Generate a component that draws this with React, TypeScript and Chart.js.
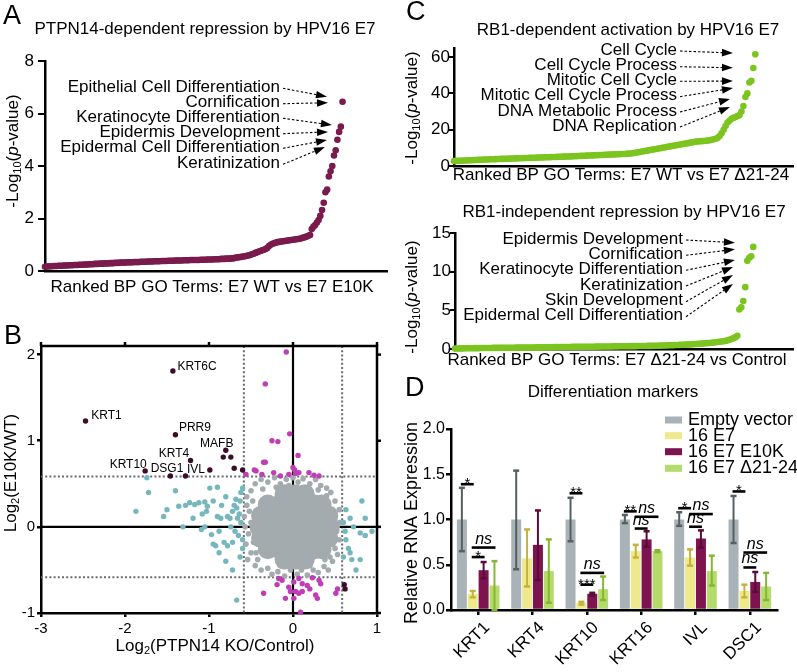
import React, { useEffect, useRef } from "react";
import { Chart, registerables } from "chart.js";
Chart.register(...registerables);

const FONT = "'Liberation Sans', Arial, Helvetica, sans-serif";

// ---------------- Panel A data ----------------
const aTitle = "PTPN14-dependent repression by HPV16 E7";
const aXTitle = "Ranked BP GO Terms: E7 WT vs E7 E10K";
const aYTicks = [0, 2, 4, 6, 8];
const aRankMax = 200;
const aValues = [
  0.16, 0.17, 0.17, 0.18, 0.18, 0.19, 0.19, 0.19, 0.2, 0.2,
  0.2, 0.21, 0.21, 0.21, 0.22, 0.22, 0.22, 0.23, 0.23, 0.23,
  0.24, 0.24, 0.24, 0.25, 0.25, 0.25, 0.26, 0.26, 0.26, 0.27,
  0.27, 0.27, 0.28, 0.28, 0.28, 0.29, 0.29, 0.29, 0.3, 0.3,
  0.3, 0.31, 0.31, 0.31, 0.32, 0.32, 0.32, 0.32, 0.33, 0.33,
  0.33, 0.33, 0.34, 0.34, 0.34, 0.34, 0.35, 0.35, 0.35, 0.35,
  0.36, 0.36, 0.36, 0.36, 0.37, 0.37, 0.37, 0.37, 0.38, 0.38,
  0.38, 0.38, 0.39, 0.39, 0.39, 0.39, 0.4, 0.4, 0.4, 0.4,
  0.4, 0.41, 0.41, 0.41, 0.41, 0.42, 0.42, 0.42, 0.42, 0.42, 0.42,
  0.43, 0.43, 0.43, 0.43, 0.44, 0.44, 0.44, 0.44, 0.45, 0.45,
  0.45, 0.45, 0.46, 0.46, 0.46, 0.47, 0.47, 0.47, 0.48, 0.48,
  0.5, 0.51, 0.52, 0.53, 0.54, 0.55, 0.56, 0.58, 0.59, 0.61,
  0.64, 0.66, 0.69, 0.71, 0.74, 0.76, 0.79, 0.81, 0.84, 0.88,
  0.95, 1.0, 1.04, 1.06, 1.08, 1.1,
  1.11, 1.12, 1.13, 1.14, 1.15, 1.16, 1.17, 1.18, 1.19, 1.2,
  1.21, 1.22, 1.23, 1.25, 1.27, 1.29, 1.31, 1.34, 1.37,
  1.6, 1.69, 1.75, 1.85, 1.94, 2.1, 2.32, 2.6, 3.0, 3.1,
  3.6, 3.8, 4.0, 4.4, 4.6, 5.0, 5.3, 5.5, 6.45,
];
const aTerms = [
  "Epithelial Cell Differentiation",
  "Cornification",
  "Keratinocyte Differentiation",
  "Epidermis Development",
  "Epidermal Cell Differentiation",
  "Keratinization",
];
const aArrowTips = [
  [164.9, 6.64], [165.5, 6.41], [167.8, 5.56], [165.5, 5.3], [164.9, 4.99], [163.7, 4.72],
];

// ---------------- Panel C data ----------------
const cTopTitle = "RB1-dependent activation by HPV16 E7";
const cTopXTitle = "Ranked BP GO Terms: E7 WT vs E7 \u039421-24";
const cTopYTicks = [0, 20, 40, 60];
const cTopRankMax = 171;
const cTopValues = [
  2.7, 2.8, 2.85, 2.9, 2.95, 3.0, 3.05, 3.1, 3.15, 3.2,
  3.25, 3.3, 3.35, 3.4, 3.45, 3.5, 3.55, 3.6, 3.65, 3.7,
  3.74, 3.78, 3.82, 3.86, 3.9, 3.94, 3.98, 4.02, 4.06, 4.1,
  4.14, 4.18, 4.22, 4.26, 4.3, 4.34, 4.38, 4.42, 4.46, 4.5,
  4.54, 4.58, 4.62, 4.66, 4.7, 4.74, 4.78, 4.82, 4.86, 4.9,
  4.94, 4.98, 5.02, 5.06, 5.1, 5.14, 5.18, 5.22, 5.26, 5.3,
  5.35, 5.4, 5.45, 5.5, 5.55, 5.6, 5.65, 5.7, 5.75, 5.8,
  5.85, 5.9, 5.95, 6.0, 6.05, 6.1, 6.15, 6.2, 6.25, 6.3,
  6.35, 6.4, 6.45, 6.5, 6.55, 6.6, 6.65, 6.7, 6.8, 6.9,
  7.0, 7.2, 7.4, 7.6, 7.8, 8.0, 8.2, 8.4, 8.6, 8.8,
  9.0, 9.2, 9.4, 9.6, 9.8, 10.0, 10.2, 10.4, 10.6, 10.8,
  11.0, 11.2, 11.4, 11.6, 11.8, 12.0, 12.2, 12.4, 12.6, 12.8,
  13.0, 13.2, 13.4, 13.5, 13.6, 13.7, 13.8, 13.9, 14.0, 14.2, 14.4, 14.7, 15.0,
  15.5, 16.5, 18, 20, 22, 24, 25, 26, 26.5, 27,
  27.5, 28, 30, 33, 38, 40, 46, 47, 54, 61.5,
];
const cTopTerms = [
  "Cell Cycle",
  "Cell Cycle Process",
  "Mitotic Cell Cycle",
  "Mitotic Cell Cycle Process",
  "DNA Metabolic Process",
  "DNA Replication",
];
const cTopArrowTips = [
  [140.7, 62.2], [140.7, 54.1], [140.7, 46.8], [140.7, 42.9], [139.2, 36.9], [139.2, 32.5],
];

const cBotTitle = "RB1-independent repression by HPV16 E7";
const cBotXTitle = "Ranked BP GO Terms: E7 \u039421-24 vs Control";
const cBotYTicks = [0, 5, 10, 15];
const cBotRankMax = 170;
const cBotValues = [
  0.05, 0.06, 0.07, 0.08, 0.08, 0.09, 0.09, 0.1, 0.1, 0.1,
  0.11, 0.11, 0.11, 0.12, 0.12, 0.12, 0.13, 0.13, 0.13, 0.14,
  0.14, 0.14, 0.15, 0.15, 0.15, 0.16, 0.16, 0.16, 0.17, 0.17,
  0.17, 0.18, 0.18, 0.18, 0.19, 0.19, 0.19, 0.2, 0.2, 0.2,
  0.2, 0.21, 0.21, 0.21, 0.22, 0.22, 0.22, 0.23, 0.23, 0.23,
  0.24, 0.24, 0.24, 0.25, 0.25, 0.25, 0.26, 0.26, 0.26, 0.27,
  0.27, 0.27, 0.28, 0.28, 0.28, 0.29, 0.29, 0.29, 0.3, 0.3,
  0.3, 0.31, 0.31, 0.31, 0.32, 0.32, 0.32, 0.33, 0.33, 0.33,
  0.34, 0.34, 0.34, 0.35, 0.35, 0.35, 0.36, 0.36, 0.36, 0.37,
  0.37, 0.37, 0.38, 0.38, 0.38, 0.39, 0.39, 0.4, 0.4, 0.41,
  0.41, 0.42, 0.42, 0.43, 0.44, 0.45, 0.46, 0.47, 0.48, 0.49,
  0.5, 0.51, 0.52, 0.53, 0.54, 0.55, 0.56, 0.57, 0.58, 0.6,
  0.62, 0.64, 0.66, 0.68, 0.7, 0.72, 0.74, 0.76, 0.78, 0.8,
  0.83, 0.86, 0.9, 0.93, 0.96, 1.0, 1.05, 1.1, 1.2, 1.3,
  1.4, 1.5, 1.7,
  5.1, 5.4, 6.2, 8.0, 11.4, 11.8, 12.0, 13.2,
];
const cBotTerms = [
  "Epidermis Development",
  "Cornification",
  "Keratinocyte Differentiation",
  "Keratinization",
  "Skin Development",
  "Epidermal Cell Differentiation",
];
const cBotArrowTips = [
  [140.8, 13.75], [140.8, 12.9], [140.8, 11.5], [139.8, 10.6], [139.8, 9.57], [139.8, 8.4],
];

// ---------------- Panel B data ----------------
const bXTicks = [-3, -2, -1, 0, 1];
const bYTicks = [-1, 0, 1, 2];
const bThreshold = 0.585;
const bDarkPts = [
  [-1.43, 1.81], [-2.47, 1.23], [-1.4, 1.07], [-0.8, 0.89], [-0.83, 0.81], [-0.74, 0.81],
  [-1.22, 0.77], [-0.7, 0.68], [-0.6, 0.66], [-0.99, 0.66], [-1.28, 0.59], [-1.46, 0.59],
  [-1.76, 0.65], [0.61, -0.67], [0.62, -0.72],
];
const bMagentaPts = [
  [-0.08, 2.03], [-0.33, 1.66], [-0.04, 1.08], [-0.25, 1.0], [-0.18, 0.99], [0.06, 0.83],
  [-0.33, 0.75], [0.0, 0.69], [-0.46, 0.66], [-0.35, 0.75], [-0.23, 0.63], [-0.15, 0.59],
  [-0.05, 0.61], [0.03, 0.62], [0.07, 0.63], [0.19, 0.63], [0.31, 0.59], [-0.56, 0.61],
  [-0.44, 0.65], [-0.37, 0.61], [0.25, 0.6], [0.02, 0.66],
  [-0.19, -0.67], [-0.13, -0.62], [-0.05, -0.7], [0.01, -0.64], [0.07, -0.6], [0.11, -0.66],
  [0.17, -0.68], [0.23, -0.59], [0.31, -0.62], [0.33, -0.66], [-0.03, -0.75], [0.03, -0.75],
  [0.07, -0.77], [0.11, -0.75], [-0.35, -0.77], [-0.09, -0.83], [0.01, -0.83], [0.27, -0.79],
  [0.29, -0.83], [0.51, -0.77], [0.53, -0.72], [0.09, -0.99], [-0.17, -0.6], [0.2, -0.72],
];
const bTealPts = [
  [-1.87, 0.18], [-1.72, 0.4], [-1.74, 0.57], [-1.54, 0.12], [-1.4, 0.42], [-1.31, 0.0],
  [-1.36, 0.24], [-1.23, 0.28], [-1.17, 0.26], [-1.12, 0.28], [-1.05, 0.29], [-1.02, 0.24],
  [-1.09, -0.03], [-1.05, 0.0], [-0.99, 0.45], [-0.9, 0.46], [-1.19, 0.1], [-1.08, 0.15],
  [-1.03, 0.18], [-0.9, 0.12], [-0.86, 0.1], [-0.97, -0.09], [-0.88, -0.05], [-0.95, -0.2],
  [-0.88, -0.3], [-0.92, -0.22], [-0.82, -0.18], [-0.78, -0.22], [-0.72, -0.18], [-0.8, -0.4],
  [-0.72, -0.5], [-0.67, -0.85], [-0.75, 0.1], [-0.72, 0.18], [-0.67, 0.22], [-0.63, 0.3],
  [-0.68, 0.32], [-0.62, 0.4], [-0.6, 0.45], [-0.7, 0.25], [-0.78, 0.12], [-0.74, 0.0],
  [-0.69, -0.05], [-0.65, -0.1], [-0.62, 0.05], [-0.66, 0.1], [-0.6, -0.25], [-0.63, -0.35],
  [-0.85, 0.25], [-0.8, 0.35], [-0.95, 0.3], [-1.28, 0.25], [-1.5, 0.2], [-0.6, -0.15],
  [-0.64, 0.15],
  [0.63, 0.2], [0.68, 0.1], [0.72, 0.0], [0.8, -0.07], [0.82, 0.3], [0.86, 0.1],
  [0.86, -0.1], [0.94, -0.05], [0.63, -0.15], [0.66, -0.25], [0.68, -0.3], [0.7, -0.38],
  [0.75, -0.5], [0.8, -0.38], [0.6, -0.35], [0.6, 0.05], [0.62, -0.05],
];
const bGrayOuterPts = [
  [-0.45, 0.5], [-0.38, 0.55], [-0.3, 0.52], [-0.22, 0.57], [-0.15, 0.5], [-0.08, 0.55],
  [0.0, 0.57], [0.06, 0.52], [0.12, 0.56], [0.2, 0.5], [0.27, 0.55], [0.33, 0.48],
  [0.4, 0.45], [-0.5, 0.42], [0.45, 0.4], [-0.55, 0.35],
  [-0.55, 0.25], [-0.58, 0.12], [-0.52, 0.18], [-0.57, 0.0], [-0.53, -0.08], [-0.56, -0.2],
  [-0.5, -0.3], [-0.54, -0.38], [0.5, 0.3], [0.55, 0.2], [0.5, 0.12], [0.56, 0.05],
  [0.52, -0.05], [0.55, -0.15], [0.5, -0.25], [0.53, -0.32], [0.47, -0.4],
  [-0.45, -0.45], [-0.38, -0.5], [-0.3, -0.48], [-0.25, -0.55], [-0.18, -0.52], [-0.1, -0.57],
  [-0.03, -0.5], [0.05, -0.55], [0.1, -0.5], [0.17, -0.56], [0.24, -0.5], [0.3, -0.53],
  [0.37, -0.46], [0.42, -0.5], [-0.42, -0.38], [0.44, -0.35],
  [-0.48, 0.3], [0.4, 0.36], [-0.36, 0.44], [0.3, 0.43], [-0.44, -0.3], [0.38, -0.38],
  [-0.2, 0.46], [0.15, 0.45], [-0.15, -0.45], [0.2, -0.45], [-0.5, 0.05], [0.49, -0.12],
  [-0.47, -0.18], [0.47, 0.2], [-0.05, 0.48], [0.05, -0.46],
];
const bGrayCorePts = [
  [-0.1, 0.38], [0.02, 0.38], [0.14, 0.38],
  [-0.3, 0.26], [-0.16, 0.26], [-0.02, 0.26], [0.12, 0.26], [0.26, 0.26], [0.34, 0.26],
  [-0.38, 0.13], [-0.24, 0.13], [-0.1, 0.13], [0.04, 0.13], [0.18, 0.13], [0.32, 0.13], [0.42, 0.13],
  [-0.4, 0], [-0.26, 0], [-0.12, 0], [0.02, 0], [0.16, 0], [0.3, 0], [0.44, 0],
  [-0.38, -0.13], [-0.24, -0.13], [-0.1, -0.13], [0.04, -0.13], [0.18, -0.13], [0.32, -0.13], [0.42, -0.13],
  [-0.3, -0.26], [-0.16, -0.26], [-0.02, -0.26], [0.12, -0.26], [0.26, -0.26], [0.34, -0.26],
  [-0.1, -0.38], [0.02, -0.38], [0.14, -0.38],
];
const bGeneLabels = ["KRT6C", "KRT1", "PRR9", "MAFB", "KRT4", "KRT10", "DSG1", "IVL"];
const bGeneLabelPos = [
  [-1.143, 1.862], [-2.22, 1.295], [-1.168, 1.149], [-0.908, 0.97], [-1.417, 0.847],
  [-1.962, 0.721], [-1.5, 0.671], [-1.155, 0.667],
];

// ---------------- Panel D data ----------------
const dTitle = "Differentiation markers";
const dCategories = ["KRT1", "KRT4", "KRT10", "KRT16", "IVL", "DSC1"];
const dSeries = ["Empty vector", "16 E7", "16 E7 E10K", "16 E7 \u039421-24"];
const dYTicks = [0, 0.5, 1.0, 1.5, 2.0];
const evMean = [1.0, 1.0, 1.0, 1.0, 1.0, 1.0];
const evLow = [0.65, 0.45, 0.76, 0.96, 0.93, 0.74];
const evHigh = [1.35, 1.54, 1.24, 1.05, 1.08, 1.26];
const e7Mean = [0.18, 0.57, 0.08, 0.65, 0.58, 0.21];
const e7Low = [0.14, 0.26, 0.06, 0.58, 0.49, 0.14];
const e7High = [0.21, 0.89, 0.09, 0.72, 0.67, 0.28];
const e10kMean = [0.44, 0.72, 0.18, 0.78, 0.79, 0.31];
const e10kLow = [0.35, 0.33, 0.16, 0.7, 0.69, 0.2];
const e10kHigh = [0.53, 1.1, 0.19, 0.87, 0.88, 0.42];
const d2124Mean = [0.27, 0.43, 0.23, 0.65, 0.43, 0.26];
const d2124Low = [0.0, 0.08, 0.11, 0.64, 0.27, 0.11];
const d2124High = [0.54, 0.78, 0.37, 0.66, 0.6, 0.41];
// [category, barA, barB, y value, label]
const dSignif: [number, number, number, number, string][] = [
  [0, 0, 1, 1.39, "*"], [0, 1, 3, 0.69, "ns"], [0, 1, 2, 0.585, "*"],
  [2, 0, 1, 1.29, "**"], [2, 1, 3, 0.41, "ns"], [2, 1, 2, 0.28, "***"],
  [3, 0, 1, 1.09, "**"], [3, 1, 3, 1.03, "ns"], [3, 1, 2, 0.9, "ns"],
  [4, 0, 1, 1.125, "*"], [4, 1, 3, 1.06, "ns"], [4, 1, 2, 0.92, "ns"],
  [5, 0, 1, 1.31, "*"], [5, 1, 3, 0.635, "ns"], [5, 1, 2, 0.47, "ns"],
];

// ---------------- Styles ----------------
const A_COLOR = "#7a1a4d";
const C_COLOR = "#7cc41f";
const B_GRAY = "#a3abae";
const B_TEAL = "#75b7bd";
const B_MAGENTA = "#c03db5";
const B_DARK = "#3c0d27";
const D_BAR = ["#a9b3b7", "#ede98c", "#7d1450", "#b4db6b"];
const D_ERR = ["#566062", "#c4b33a", "#5a0b37", "#87b634"];

type Seg = { t: string; sub?: boolean; it?: boolean };

function rich(ctx: any, segs: Seg[], x: number, y: number, size: number, rotate = false, align = "center") {
  ctx.save();
  ctx.translate(x, y);
  if (rotate) ctx.rotate(-Math.PI / 2);
  const f = (s: Seg) => `${s.it ? "italic " : ""}${s.sub ? Math.round(size * 0.62) : size}px ${FONT}`;
  let total = 0;
  const ws = segs.map((s) => {
    ctx.font = f(s);
    const w = ctx.measureText(s.t).width;
    total += w;
    return w;
  });
  let cx = align === "center" ? -total / 2 : align === "right" ? -total : 0;
  ctx.textBaseline = "middle";
  ctx.textAlign = "left";
  ctx.fillStyle = "#000";
  segs.forEach((s, i) => {
    ctx.font = f(s);
    ctx.fillText(s.t, cx, s.sub ? size * 0.32 : 0);
    cx += ws[i];
  });
  ctx.restore();
}

function txt(ctx: any, s: string, x: number, y: number, size: number, align = "center", italic = false, baseline = "middle") {
  ctx.save();
  ctx.font = `${italic ? "italic " : ""}${size}px ${FONT}`;
  ctx.textAlign = align;
  ctx.textBaseline = baseline;
  ctx.fillStyle = "#000";
  ctx.fillText(s, x, y);
  ctx.restore();
}

function yTickLabels(chart: any, vals: number[], rightX: number, size: number, fmt = (v: number) => String(v)) {
  const ys = chart.scales.y;
  vals.forEach((v) => txt(chart.ctx, fmt(v), rightX, ys.getPixelForValue(v), size, "right"));
}

function arrow(ctx: any, x1: number, y1: number, x2: number, y2: number) {
  const ang = Math.atan2(y2 - y1, x2 - x1);
  const L = 11, W = 3.8;
  const bx = x2 - L * Math.cos(ang), by = y2 - L * Math.sin(ang);
  ctx.save();
  ctx.strokeStyle = "#000";
  ctx.fillStyle = "#000";
  ctx.lineWidth = 1.1;
  ctx.setLineDash([2.5, 2]);
  ctx.beginPath();
  ctx.moveTo(x1, y1);
  ctx.lineTo(bx, by);
  ctx.stroke();
  ctx.setLineDash([]);
  ctx.beginPath();
  ctx.moveTo(x2, y2);
  ctx.lineTo(bx - W * Math.sin(ang), by + W * Math.cos(ang));
  ctx.lineTo(bx + W * Math.sin(ang), by - W * Math.cos(ang));
  ctx.closePath();
  ctx.fill();
  ctx.restore();
}

const yTitleSegs: Seg[] = [{ t: "-Log" }, { t: "10", sub: true }, { t: "(" }, { t: "p", it: true }, { t: "-value)" }];

function fixedTicks(vals: number[]) {
  return (scale: any) => {
    scale.ticks = vals.map((v) => ({ value: v }));
  };
}

function rankConfig(opts: any) {
  const { values, color, rankMax, yMax, yTicks, padding, tickLen, labelRight, plugin } = opts;
  return {
    type: "scatter",
    data: {
      datasets: [
        {
          data: values.map((v: number, i: number) => ({ x: i, y: v })),
          pointRadius: 3.3,
          pointBackgroundColor: color,
          pointBorderWidth: 0,
          clip: false,
        },
      ],
    },
    options: {
      responsive: false,
      animation: false,
      layout: { padding },
      plugins: { legend: { display: false }, tooltip: { enabled: false } },
      scales: {
        x: {
          type: "linear",
          min: 0,
          max: rankMax,
          afterFit: (s: any) => { s.height = 0; },
          ticks: { display: false },
          grid: { display: false },
          border: { display: true, width: 2.5, color: "#000" },
        },
        y: {
          type: "linear",
          min: 0,
          max: yMax,
          afterFit: (s: any) => { s.width = 0; },
          afterBuildTicks: fixedTicks(yTicks),
          ticks: { display: false },
          grid: { drawOnChartArea: false, drawTicks: true, tickLength: tickLen, lineWidth: 2, color: "#000" },
          border: { display: true, width: 2.5, color: "#000" },
        },
      },
    },
    plugins: [
      {
        id: "yLabels",
        afterDraw(chart: any) {
          yTickLabels(chart, yTicks, labelRight, 17);
        },
      },
      plugin,
    ],
  };
}

function configA() {
  return rankConfig({
    values: aValues, color: A_COLOR, rankMax: aRankMax, yMax: 8, yTicks: aYTicks,
    padding: { left: 45, right: 13, top: 61, bottom: 29 }, tickLen: 7, labelRight: 34,
    plugin: {
      id: "annA",
      afterDraw(chart: any) {
        const ctx = chart.ctx, xs = chart.scales.x, ys = chart.scales.y;
        txt(ctx, "A", 3, 17, 27, "left");
        txt(ctx, aTitle, 205, 29, 17);
        rich(ctx, yTitleSegs, 13, 151, 17, true);
        txt(ctx, aXTitle, 212, 287, 17);
        const ty = [87.3, 102.7, 117.3, 132.7, 147.3, 163.3];
        aTerms.forEach((t, i) => {
          txt(ctx, t, 280, ty[i], 17, "right");
          arrow(ctx, 283, ty[i] + 1, xs.getPixelForValue(aArrowTips[i][0]), ys.getPixelForValue(aArrowTips[i][1]));
        });
      },
    },
  });
}

function configCTop() {
  return rankConfig({
    values: cTopValues, color: C_COLOR, rankMax: cTopRankMax, yMax: 65, yTicks: cTopYTicks,
    padding: { left: 54, right: 4, top: 48, bottom: 19 }, tickLen: 5, labelRight: 50,
    plugin: {
      id: "annCTop",
      afterDraw(chart: any) {
        const ctx = chart.ctx, xs = chart.scales.x, ys = chart.scales.y;
        txt(ctx, "C", 6, 13, 27, "left");
        txt(ctx, cTopTitle, 228, 30, 17);
        rich(ctx, yTitleSegs, 12, 108, 17, true);
        txt(ctx, cTopXTitle, 221, 175, 17);
        const ty = [50, 65.7, 80.3, 95.7, 111, 126];
        cTopTerms.forEach((t, i) => {
          txt(ctx, t, 277, ty[i], 17, "right");
          arrow(ctx, 280, ty[i] + 1, xs.getPixelForValue(cTopArrowTips[i][0]), ys.getPixelForValue(cTopArrowTips[i][1]));
        });
      },
    },
  });
}

function configCBot() {
  return rankConfig({
    values: cBotValues, color: C_COLOR, rankMax: cBotRankMax, yMax: 15, yTicks: cBotYTicks,
    padding: { left: 55, right: 4, top: 48, bottom: 21 }, tickLen: 5, labelRight: 51,
    plugin: {
      id: "annCBot",
      afterDraw(chart: any) {
        const ctx = chart.ctx, xs = chart.scales.x, ys = chart.scales.y;
        txt(ctx, cBotTitle, 224, 27, 17);
        rich(ctx, yTitleSegs, 12, 112, 17, true);
        txt(ctx, cBotXTitle, 217, 175, 17);
        const ty = [54, 69.3, 84.3, 100, 115.7, 130.7];
        cBotTerms.forEach((t, i) => {
          txt(ctx, t, 283, ty[i], 17, "right");
          arrow(ctx, 286, ty[i] + 1, xs.getPixelForValue(cBotArrowTips[i][0]), ys.getPixelForValue(cBotArrowTips[i][1]));
        });
      },
    },
  });
}

function pts(a: number[][]) {
  return a.map(([x, y]) => ({ x, y }));
}

function configB() {
  const ds = (data: number[][], color: string, r: number) => ({
    data: pts(data), pointRadius: r, pointBackgroundColor: color, pointBorderWidth: 0, clip: false,
  });
  return {
    type: "scatter",
    data: {
      datasets: [
        ds(bDarkPts, B_DARK, 2.7),
        ds(bMagentaPts, B_MAGENTA, 2.7),
        ds(bTealPts, B_TEAL, 2.7),
        ds(bGrayOuterPts, B_GRAY, 2.8),
        ds(bGrayCorePts, B_GRAY, 10),
      ],
    },
    options: {
      responsive: false,
      animation: false,
      layout: { padding: { left: 41, right: 23, top: 46, bottom: 59 } },
      plugins: { legend: { display: false }, tooltip: { enabled: false } },
      scales: {
        x: {
          type: "linear", min: -3, max: 1,
          afterFit: (s: any) => { s.height = 0; },
          afterBuildTicks: fixedTicks(bXTicks),
          ticks: { display: false },
          grid: { drawOnChartArea: false, drawTicks: true, tickLength: 4, lineWidth: 2.5, color: "#000" },
          border: { display: true, width: 2.5, color: "#000" },
        },
        y: {
          type: "linear", min: -1, max: 2.1,
          afterFit: (s: any) => { s.width = 0; },
          afterBuildTicks: fixedTicks(bYTicks),
          ticks: { display: false },
          grid: { drawOnChartArea: false, drawTicks: true, tickLength: 4, lineWidth: 2.5, color: "#000" },
          border: { display: true, width: 2.5, color: "#000" },
        },
      },
    },
    plugins: [
      {
        id: "bLines",
        beforeDatasetsDraw(chart: any) {
          const ctx = chart.ctx, ca = chart.chartArea, xs = chart.scales.x, ys = chart.scales.y;
          ctx.save();
          ctx.strokeStyle = "#676c70";
          ctx.lineWidth = 2;
          ctx.setLineDash([2, 2.2]);
          [-bThreshold, bThreshold].forEach((v) => {
            const px = xs.getPixelForValue(v);
            ctx.beginPath(); ctx.moveTo(px, ca.top); ctx.lineTo(px, ca.bottom); ctx.stroke();
            const py = ys.getPixelForValue(v);
            ctx.beginPath(); ctx.moveTo(ca.left, py); ctx.lineTo(ca.right, py); ctx.stroke();
          });
          ctx.setLineDash([]);
          ctx.strokeStyle = "#000";
          ctx.lineWidth = 2.2;
          const x0 = xs.getPixelForValue(0), y0 = ys.getPixelForValue(0);
          ctx.beginPath(); ctx.moveTo(x0, ca.top); ctx.lineTo(x0, ca.bottom); ctx.stroke();
          ctx.beginPath(); ctx.moveTo(ca.left, y0); ctx.lineTo(ca.right, y0); ctx.stroke();
          ctx.restore();
        },
        afterDraw(chart: any) {
          const ctx = chart.ctx, ca = chart.chartArea, xs = chart.scales.x, ys = chart.scales.y;
          ctx.save();
          ctx.strokeStyle = "#000";
          ctx.lineWidth = 2.5;
          ctx.beginPath();
          ctx.moveTo(ca.left - 1, ca.top); ctx.lineTo(ca.right, ca.top); ctx.lineTo(ca.right, ca.bottom + 1);
          ctx.stroke();
          bXTicks.forEach((v) => {
            const px = xs.getPixelForValue(v);
            ctx.beginPath(); ctx.moveTo(px, ca.top); ctx.lineTo(px, ca.top - 4); ctx.stroke();
          });
          bYTicks.forEach((v) => {
            const py = ys.getPixelForValue(v);
            ctx.beginPath(); ctx.moveTo(ca.right, py); ctx.lineTo(ca.right + 4, py); ctx.stroke();
          });
          ctx.restore();
          yTickLabels(chart, bYTicks, 35, 15);
          bXTicks.forEach((v) => txt(ctx, String(v), xs.getPixelForValue(v), ca.bottom + 16, 15));
          bGeneLabels.forEach((g, i) => {
            txt(ctx, g, xs.getPixelForValue(bGeneLabelPos[i][0]), ys.getPixelForValue(bGeneLabelPos[i][1]), 12);
          });
          txt(ctx, "B", 4, 37, 27, "left");
          rich(ctx, [{ t: "Log" }, { t: "2", sub: true }, { t: "(E10K/WT)" }], 11, 173, 17, true);
          rich(ctx, [{ t: "Log" }, { t: "2", sub: true }, { t: "(PTPN14 KO/Control)" }], 215, 346, 17);
        },
      },
    ],
  };
}

function configD() {
  const means = [evMean, e7Mean, e10kMean, d2124Mean];
  const lows = [evLow, e7Low, e10kLow, d2124Low];
  const highs = [evHigh, e7High, e10kHigh, d2124High];
  return {
    type: "bar",
    data: {
      labels: dCategories,
      datasets: dSeries.map((name, i) => ({
        label: name,
        data: means[i],
        backgroundColor: D_BAR[i],
        borderWidth: 0,
        categoryPercentage: 0.8,
        barPercentage: 0.92,
      })),
    },
    options: {
      responsive: false,
      animation: false,
      layout: { padding: { left: 51, right: 20, top: 59, bottom: 62 } },
      plugins: { legend: { display: false }, tooltip: { enabled: false } },
      scales: {
        x: {
          afterFit: (s: any) => { s.height = 0; },
          ticks: { display: false },
          grid: { display: true, offset: false, drawOnChartArea: false, drawTicks: true, tickLength: 5, lineWidth: 2.5, color: "#000" },
          border: { display: true, width: 2.5, color: "#000" },
        },
        y: {
          type: "linear", min: 0, max: 2,
          afterFit: (s: any) => { s.width = 0; },
          afterBuildTicks: fixedTicks(dYTicks),
          ticks: { display: false },
          grid: { drawOnChartArea: false, drawTicks: true, tickLength: 5, lineWidth: 2.5, color: "#000" },
          border: { display: true, width: 2.5, color: "#000" },
        },
      },
    },
    plugins: [
      {
        id: "dAnn",
        afterDatasetsDraw(chart: any) {
          const ctx = chart.ctx, ys = chart.scales.y;
          ctx.save();
          for (let d = 0; d < 4; d++) {
            const meta = chart.getDatasetMeta(d);
            meta.data.forEach((bar: any, i: number) => {
              const xc = bar.x;
              const y1 = ys.getPixelForValue(lows[d][i]);
              const y2 = ys.getPixelForValue(highs[d][i]);
              ctx.strokeStyle = D_ERR[d];
              ctx.lineWidth = 2;
              ctx.beginPath(); ctx.moveTo(xc, y1); ctx.lineTo(xc, y2); ctx.stroke();
              ctx.lineWidth = 2.5;
              ctx.beginPath(); ctx.moveTo(xc - 3, y1); ctx.lineTo(xc + 3, y1); ctx.stroke();
              ctx.beginPath(); ctx.moveTo(xc - 3, y2); ctx.lineTo(xc + 3, y2); ctx.stroke();
            });
          }
          ctx.restore();
        },
        afterDraw(chart: any) {
          const ctx = chart.ctx, xs = chart.scales.x, ys = chart.scales.y, ca = chart.chartArea;
          yTickLabels(chart, dYTicks, 45, 16, (v) => v.toFixed(1));
          dSignif.forEach(([c, a, b, v, label]) => {
            const xa = chart.getDatasetMeta(a).data[c].x;
            const xb = chart.getDatasetMeta(b).data[c].x;
            const py = ys.getPixelForValue(v);
            ctx.save();
            ctx.strokeStyle = "#000";
            ctx.lineWidth = 2.6;
            ctx.beginPath(); ctx.moveTo(xa - 1, py); ctx.lineTo(xb + 1, py); ctx.stroke();
            ctx.restore();
            const mx = (xa + xb) / 2;
            if (label === "ns") txt(ctx, label, mx, py - 4, 16, "center", true, "alphabetic");
            else txt(ctx, label, mx, py + 4, 15, "center", false, "alphabetic");
          });
          const c45 = Math.SQRT1_2;
          dCategories.forEach((c, i) => {
            const px = xs.getPixelForValue(i);
            ctx.save();
            ctx.transform(c45, -c45, c45, c45, px + 9, ca.bottom + 15);
            ctx.font = `17px ${FONT}`;
            ctx.textAlign = "right";
            ctx.textBaseline = "middle";
            ctx.fillStyle = "#000";
            ctx.fillText(c, 0, 0);
            ctx.restore();
          });
          // legend
          const ly = [50, 65.7, 81.7, 98.3];
          dSeries.forEach((s, i) => {
            ctx.fillStyle = D_BAR[i];
            ctx.fillRect(265, ly[i] - 3.5, 17, 7);
            txt(ctx, s, 288, ly[i], 18, "left");
          });
          txt(ctx, "D", 5, 19, 27, "left");
          txt(ctx, dTitle, 213, 22, 17);
          ctx.save();
          ctx.translate(12, 153);
          ctx.rotate(-Math.PI / 2);
          ctx.font = `18px ${FONT}`;
          ctx.textAlign = "center";
          ctx.textBaseline = "middle";
          ctx.fillStyle = "#000";
          ctx.fillText("Relative RNA Expression", 0, 0);
          ctx.restore();
        },
      },
    ],
  };
}

function Panel({ x, y, w, h, make }: any) {
  const ref = useRef<HTMLCanvasElement>(null);
  useEffect(() => {
    const c = new Chart(ref.current as HTMLCanvasElement, make());
    return () => c.destroy();
  }, []);
  return (
    <canvas
      ref={ref}
      width={w}
      height={h}
      style={{ position: "absolute", left: x, top: y, width: w, height: h }}
    />
  );
}

export default function App() {
  return (
    <div style={{ position: "fixed", left: 0, top: 0, width: 797, height: 672, background: "#fff", overflow: "hidden" }}>
      <Panel x={0} y={0} w={400} h={300} make={configA} />
      <Panel x={0} y={300} w={400} h={372} make={configB} />
      <Panel x={400} y={0} w={397} h={185} make={configCTop} />
      <Panel x={400} y={185} w={397} h={185} make={configCBot} />
      <Panel x={400} y={370} w={397} h={302} make={configD} />
    </div>
  );
}
